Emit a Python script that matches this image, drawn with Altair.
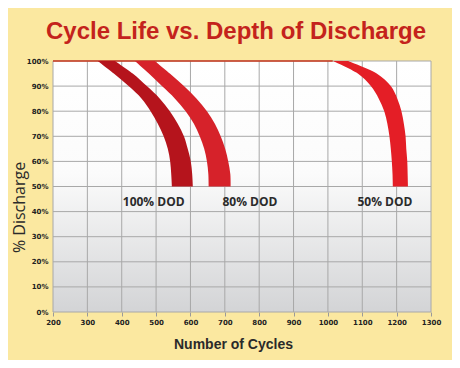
import altair as alt
import pandas as pd

# ---- data ----
X_TICKS = [200, 300, 400, 500, 600, 700, 800, 900, 1000, 1100, 1200, 1300]
Y_TICKS = [0, 10, 20, 30, 40, 50, 60, 70, 80, 90, 100]

SERIES = ["100% DOD", "80% DOD", "50% DOD"]
COLORS = ["#B5141C", "#D6222A", "#E41E26"]

# % discharge levels where band edges were read
LEVELS = [100, 95, 90, 85, 80, 75, 70, 65, 60, 55, 50]
# left / right edge of each band (cycles) at each level
DOD100_LEFT = [330, 377, 420, 458, 484, 505, 522, 534, 541, 544, 546]
DOD100_RIGHT = [380, 432, 473, 511, 540, 563, 581, 592, 601, 605, 607]
DOD80_LEFT = [438, 479, 517, 555, 586, 610, 627, 640, 648, 652, 653]
DOD80_RIGHT = [496, 540, 581, 618, 648, 671, 688, 701, 710, 716, 717]
DOD50_LEFT = [1014, 1087, 1125, 1148, 1164, 1173, 1179, 1183, 1186, 1188, 1189]
DOD50_RIGHT = [1058, 1142, 1183, 1202, 1214, 1221, 1226, 1228, 1231, 1232, 1233]

LABELS = ["100% DOD", "80% DOD", "50% DOD"]
LABEL_X = [493, 773, 1166]
LABEL_Y = [44, 44, 44]

TOP_LINE = [200, 1014]

W, H = 378, 251

rows = []
for name, lefts, rights in [
    ("100% DOD", DOD100_LEFT, DOD100_RIGHT),
    ("80% DOD", DOD80_LEFT, DOD80_RIGHT),
    ("50% DOD", DOD50_LEFT, DOD50_RIGHT),
]:
    for lv, l, r in zip(LEVELS, lefts, rights):
        rows.append({"series": name, "pct": lv, "left": l, "right": r})
bands = pd.DataFrame(rows)

xs = alt.Scale(domain=[200, 1300], nice=False, zero=False)
ys = alt.Scale(domain=[0, 100], nice=False, zero=True)

x_axis = alt.Axis(
    values=X_TICKS, format="d", labelOverlap=False, labelFlush=False,
    grid=False, domain=False, ticks=True, tickSize=4,
    tickColor="#9a9a9a", labelFont="DejaVu Sans", labelFontWeight="bold",
    labelFontSize=7, labelColor="#222222", labelPadding=2,
    title="Number of Cycles", titleFont="Liberation Sans", titleFontSize=14,
    titleFontWeight="bold", titleColor="#2a2a2a", titleX=180, titleY=36,
    titleBaseline="alphabetic",
)
y_axis = alt.Axis(
    values=Y_TICKS, labelOverlap=False, labelFlush=False,
    grid=False, domain=False, ticks=False,
    labelExpr="datum.value + '%'", labelFont="DejaVu Sans",
    labelFontWeight="bold", labelFontSize=7, labelColor="#222222",
    labelPadding=5,
    title="% Discharge", titleFont="Open Sans", titleFontSize=16,
    titleFontWeight="normal", titleColor="#2a2a2a", titleX=-29, titleY=146,
    titleAngle=270, titleBaseline="alphabetic",
)


def X(field):
    return alt.X(field, scale=xs, axis=x_axis)


def Y(field):
    return alt.Y(field, scale=ys, axis=y_axis)


bg = alt.Chart(pd.DataFrame({"a": [0]})).mark_rect(
    color=alt.Gradient(
        gradient="linear",
        stops=[
            alt.GradientStop(color="#ffffff", offset=0),
            alt.GradientStop(color="#fbfbfb", offset=0.45),
            alt.GradientStop(color="#d3d4d6", offset=1),
        ],
        x1=0, x2=0, y1=0, y2=1,
    )
).encode(x=alt.value(0), x2=alt.value(W), y=alt.value(0), y2=alt.value(H))

vgrid = alt.Chart(pd.DataFrame({"x": X_TICKS})).mark_rule(
    color="#a8a8a8", strokeWidth=1
).encode(x=X("x:Q"))

hgrid = alt.Chart(pd.DataFrame({"y": Y_TICKS})).mark_rule(
    color="#a8a8a8", strokeWidth=1
).encode(y=Y("y:Q"))

topline = alt.Chart(
    pd.DataFrame({"x": [TOP_LINE[0]], "x2": [TOP_LINE[1]], "y": [100]})
).mark_rule(color="#C8381E", strokeWidth=1.5).encode(
    x=X("x:Q"), x2="x2:Q", y=Y("y:Q")
)

area = alt.Chart(bands).mark_area(
    orient="horizontal", interpolate="catmull-rom"
).encode(
    y=Y("pct:Q"),
    x=alt.X("left:Q", scale=xs, axis=x_axis, stack=None),
    x2="right:Q",
    color=alt.Color("series:N", scale=alt.Scale(domain=SERIES, range=COLORS), legend=None),
    detail="series:N",
)

labels = alt.Chart(
    pd.DataFrame({"label": LABELS, "x": LABEL_X, "y": LABEL_Y})
).mark_text(
    font="Open Sans", fontSize=12, fontWeight="bold", color="#2b2b2b",
    baseline="middle", align="center",
).encode(x=X("x:Q"), y=Y("y:Q"), text="label:N")

chart = alt.layer(bg, vgrid, hgrid, topline, area, labels).properties(
    width=W, height=H,
    padding={"left": 45, "top": 53, "right": 21, "bottom": 48},
    autosize=alt.AutoSizeParams(type="none"),
    background="#FBE8A0",
    title=alt.TitleParams(
        text="Cycle Life vs. Depth of Discharge", font="Liberation Sans",
        fontSize=24, fontWeight="bold", color="#C4231C", anchor="middle",
        dx=-6, dy=31, offset=25, baseline="alphabetic",
    ),
).configure_view(stroke=None)

chart.save("out.html", embed_options={"renderer": "svg", "actions": False})
